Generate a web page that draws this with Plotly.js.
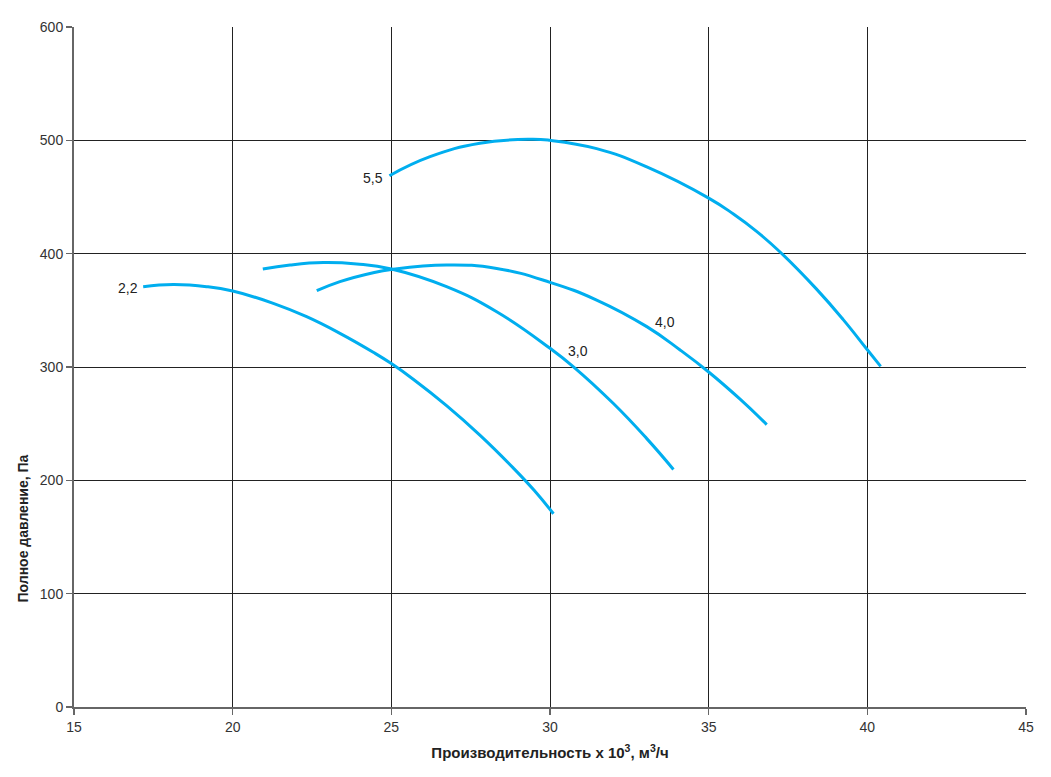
<!DOCTYPE html>
<html>
<head>
<meta charset="utf-8">
<script src="https://cdn.plot.ly/plotly-3.0.1.min.js"></script>
<style>html,body{margin:0;padding:0;background:#fff;}#chart{width:1051px;height:777px;}</style>
</head>
<body>
<div id="chart"></div>
<script>
// Curve data (x: производительность ×10^3 м3/ч, y: Па)
const x22 = [17.18, 18.13, 19.18, 20.0, 21.28, 22.33, 23.38, 24.43, 25.0, 25.69, 26.74, 27.79, 28.84, 29.5, 30.11];
const y22 = [370.9, 372.7, 370.9, 367.0, 356.2, 344.4, 329.7, 313.0, 303.0, 289.2, 265.9, 239.9, 211.0, 191.2, 170.5];

const x30 = [20.95, 21.81, 22.86, 23.91, 25.0, 26.74, 28.32, 30.0, 30.74, 31.99, 33.05, 33.89];
const y30 = [386.5, 390.0, 392.1, 390.9, 386.5, 370.9, 348.8, 316.5, 300.2, 268.0, 236.8, 209.6];

const x40 = [22.65, 23.38, 24.43, 25.0, 26.74, 28.32, 30.0, 31.47, 33.05, 34.1, 35.0, 35.99, 36.83];
const y40 = [367.3, 375.3, 383.2, 386.0, 390.0, 387.0, 374.7, 359.1, 335.6, 315.0, 295.6, 271.6, 249.2];

const x55 = [24.94, 26.22, 27.79, 29.37, 30.0, 31.47, 33.05, 35.0, 35.78, 36.5, 37.25, 38.4, 39.24, 40.0, 40.42];
const y55 = [468.8, 485.6, 497.4, 500.9, 500.0, 492.7, 476.5, 449.0, 435.0, 419.9, 401.5, 368.7, 341.8, 315.2, 300.5];

const labelText = ["2,2", "3,0", "4,0", "5,5"];
const labelX = [16.70, 30.88, 33.62, 24.42];
const labelY = [369.7, 314.0, 339.7, 466.8];

const xTicks = [15, 20, 25, 30, 35, 40, 45];
const yTicks = [0, 100, 200, 300, 400, 500, 600];

const xTitle = 'Производительность x 10<sup>3</sup>, м<sup>3</sup>/ч';
const yTitle = 'Полное давление, Па';

const FONT = 'Liberation Sans, Arial, sans-serif';
const lineColor = '#00AEEF';
const series = [[x22, y22], [x30, y30], [x40, y40], [x55, y55]];
const traces = series.map(s => ({
  x: s[0], y: s[1], type: 'scatter', mode: 'lines',
  line: {color: lineColor, width: 3, shape: 'spline', smoothing: 1.3},
  hoverinfo: 'skip', showlegend: false
}));

const annotations = labelText.map((t, i) => ({
  x: labelX[i], y: labelY[i], xref: 'x', yref: 'y', text: t,
  showarrow: false, font: {family: FONT, size: 14, color: '#222'},
  xanchor: 'center', yanchor: 'middle'
}));
annotations.push({
  x: -0.0539, y: 0.262, xref: 'paper', yref: 'paper', text: yTitle,
  textangle: -90, showarrow: false, xanchor: 'center', yanchor: 'middle',
  font: {family: FONT, size: 14, color: '#222', weight: 'bold'}
});

const axisCommon = {
  showgrid: true, gridcolor: '#222', gridwidth: 1,
  showline: true, linecolor: '#666', linewidth: 2,
  ticks: 'outside', ticklen: 6, tickcolor: '#666', tickwidth: 1.5,
  zeroline: false,
  tickfont: {family: FONT, size: 14, color: '#333'}
};

const layout = {
  width: 1051, height: 777,
  margin: {l: 74, r: 25, t: 27, b: 70},
  paper_bgcolor: '#fff', plot_bgcolor: '#fff',
  showlegend: false,
  xaxis: Object.assign({}, axisCommon, {
    range: [15, 45], tickvals: xTicks, ticktext: xTicks.map(String),
    title: {text: xTitle, standoff: 14,
      font: {family: FONT, size: 15, color: '#222', weight: 'bold'}}
  }),
  yaxis: Object.assign({}, axisCommon, {
    range: [0, 600], tickvals: yTicks, ticktext: yTicks.map(String)
  }),
  annotations: annotations
};

Plotly.newPlot('chart', traces, layout, {staticPlot: true, displayModeBar: false});
</script>
</body>
</html>
